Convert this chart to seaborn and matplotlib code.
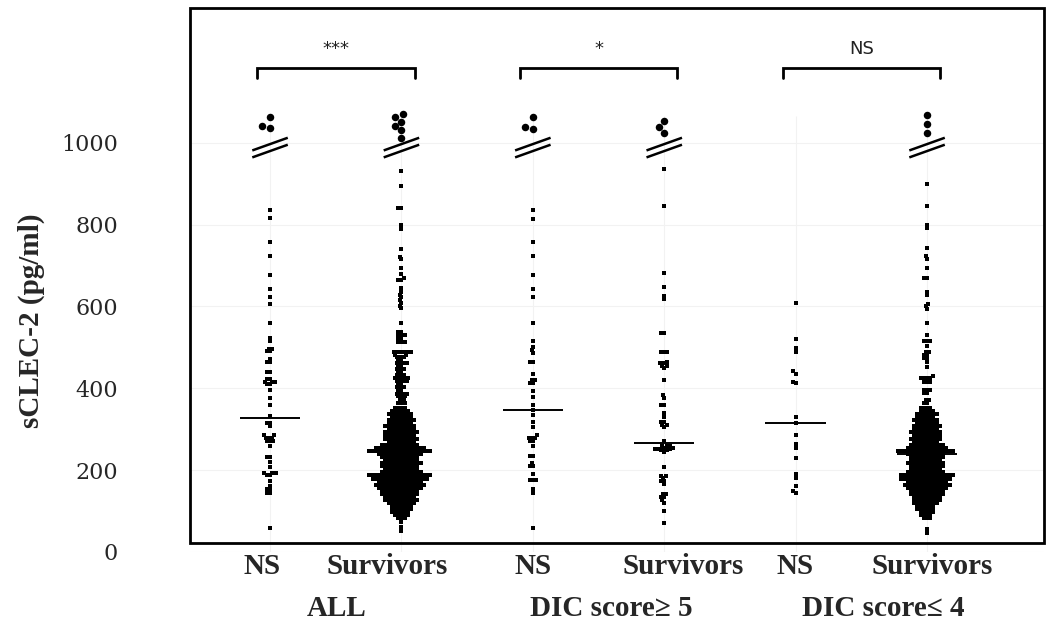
import numpy as np
import pandas as pd
import matplotlib
matplotlib.use("Agg")
import matplotlib.pyplot as plt
import seaborn as sns
from matplotlib.patches import Rectangle
from matplotlib.transforms import ScaledTranslation

# ---------------- data ----------------
categories = ["ALL NS", "ALL Survivors", "DIC5 NS", "DIC5 Survivors", "DIC4 NS", "DIC4 Survivors"]
tick_labels = ["NS", "Survivors", "NS", "Survivors", "NS", "Survivors"]
group_labels = ["ALL", "DIC score\u2265 5", "DIC score\u2264 4"]
sig_labels = ["***", "*", "NS"]
medians = [328, 244, 347, 266, 314, 239]

all_ns = [835, 816, 757, 724, 676, 642, 624, 607, 560, 524, 516, 497, 497, 490, 490,
          472, 464, 464, 439, 439, 422, 422, 416, 416, 416, 410, 410, 396, 377, 359,
          332, 315, 315, 307, 285, 285, 279, 279, 279, 272, 272, 272, 260, 233, 233,
          219, 207, 194, 194, 194, 189, 189, 174, 162, 153, 153, 145, 145, 59]

dic5_ns = [835, 814, 758, 724, 676, 642, 624, 560, 516, 500, 493, 486, 465, 465, 435,
           420, 420, 413, 413, 393, 379, 360, 346, 334, 317, 305, 285, 279, 279, 279,
           272, 272, 258, 235, 235, 218, 211, 211, 190, 176, 176, 176, 153, 145, 59]

dic5_surv = [936, 845, 681, 648, 626, 617, 535, 535, 488, 488, 488, 465, 461, 461, 455,
             455, 450, 420, 383, 376, 359, 359, 339, 329, 318, 318, 310, 310, 305, 271,
             260, 260, 260, 255, 255, 252, 252, 252, 248, 248, 245, 207, 186, 186, 181,
             174, 174, 166, 141, 141, 134, 134, 126, 120, 100, 71]

dic4_ns = [609, 521, 498, 488, 441, 436, 416, 412, 330, 316, 286, 263, 254, 229, 190,
           182, 162, 149, 144]

# sparse upper part of the survivor columns
all_surv_upper = [932, 894, 841, 841, 799, 788, 740, 721, 715, 693, 679, 669, 665, 665,
                  646, 636, 629, 622, 615, 609, 602, 595, 559,
                  538, 538, 530, 530, 530, 522, 522, 514, 514, 514,
                  489, 489, 489, 489, 489, 489, 482, 482, 477, 477, 477, 470, 470,
                  462, 462, 462, 462, 455, 455, 447, 447, 447, 440, 440, 432, 432, 432,
                  425, 425, 425, 425, 425, 417, 417, 417, 417, 410, 410, 402, 402, 402,
                  395, 395, 387, 387, 387, 387, 380, 380, 380, 372, 372, 365, 365, 365]
all_surv_lower = [74, 62, 52]

dic4_surv_upper = [898, 845, 800, 792, 743, 722, 715, 695, 669, 669, 635, 627, 607, 601,
                   594, 560, 531, 515, 515, 515, 503, 489, 489, 482, 482, 473, 473, 465,
                   453, 429, 424, 424, 424, 424, 416, 416, 416, 396, 396, 396, 388, 388,
                   371, 371, 364, 364]
dic4_surv_lower = [56, 47]

# dense body of the survivor columns: row level and number of dots in that row
row_levels = [352, 344.5, 337, 329.5, 322, 314.5, 307, 299.5, 292, 284.5, 277, 269.5,
              262, 254.5, 247, 239.5, 232, 224.5, 217, 209.5, 202, 194.5, 187, 179.5,
              172, 164.5, 157, 149.5, 142, 134.5, 127, 119.5, 112, 104.5, 97, 89.5, 82]
all_surv_counts = [4, 6, 8, 7, 9, 8, 10, 9, 11, 10, 11, 9, 12, 16, 20, 14, 12, 11, 13,
                   12, 11, 13, 20, 18, 14, 16, 14, 12, 12, 10, 11, 9, 7, 7, 6, 5, 3]
dic4_surv_counts = [4, 5, 7, 6, 8, 7, 9, 8, 10, 9, 10, 8, 11, 13, 18, 12, 11, 10, 12,
                    11, 10, 12, 17, 16, 13, 15, 13, 11, 11, 9, 9, 8, 6, 6, 5, 4, 3]

# values drawn above the axis break
out_all_ns = [1063, 1041, 1036]
out_all_surv = [1070, 1063, 1051, 1041, 1031, 1012]
out_dic5_ns = [1063, 1038, 1033]
out_dic5_surv = [1053, 1038, 1024]
out_dic4_ns = []
out_dic4_surv = [1068, 1046, 1024]

# ---------------- build long tables ----------------
all_surv = all_surv_upper + list(np.repeat(row_levels, all_surv_counts)) + all_surv_lower
dic4_surv = dic4_surv_upper + list(np.repeat(row_levels, dic4_surv_counts)) + dic4_surv_lower
series = [all_ns, all_surv, dic5_ns, dic5_surv, dic4_ns, dic4_surv]
outs = [out_all_ns, out_all_surv, out_dic5_ns, out_dic5_surv, out_dic4_ns, out_dic4_surv]

df = pd.DataFrame({
    "cat": np.concatenate([[c] * len(v) for c, v in zip(categories, series)]),
    "value": np.concatenate([np.asarray(v, float) for v in series]),
})
df_out = pd.DataFrame({
    "cat": np.concatenate([[c] * len(v) for c, v in zip(categories, outs)]),
    "value": np.concatenate([np.asarray(v, float) for v in outs if len(v)]),
})

# ---------------- figure ----------------
sns.set_style("white")
plt.rcParams["font.family"] = ["DejaVu Sans"]

W, H = 1049, 625
fig = plt.figure(figsize=(W / 100, H / 100), dpi=100)
ax = fig.add_axes([190 / W, (H - 552) / H, 854 / W, 544 / H])

sns.swarmplot(data=df, x="cat", y="value", order=categories, color="black",
              size=2.2, marker="s", linewidth=0, ax=ax, warn_thresh=1.0, zorder=3)
sns.swarmplot(data=df_out, x="cat", y="value", order=categories, color="black",
              size=5.4, linewidth=0, ax=ax, warn_thresh=1.0, zorder=3)

ax.set_xlim(-0.609, 5.89)
ax.set_ylim(0, 1329)

# faint grid
for s in ax.spines.values():
    s.set_visible(False)
ax.set_yticks([0, 200, 400, 600, 800, 1000])
ax.yaxis.grid(True, color="#f2f2f2", linewidth=0.8, zorder=0)
ax.vlines(np.arange(len(categories)), 0, 1066, color="#f2f2f2", linewidth=0.8, zorder=0)

# frame
ax.add_patch(Rectangle((0, 9 / 544), 1, 1 - 9 / 544, transform=ax.transAxes,
                       fill=False, edgecolor="black", linewidth=2.0, clip_on=False, zorder=5))

# medians
for i, m in enumerate(medians):
    ax.hlines(m, i - 0.23, i + 0.23, color="black", linewidth=1.4, zorder=4)

# axis-break marks and outliers
for i, o in enumerate(outs):
    if len(o):
        for y0 in (964, 981):
            ax.plot([i - 0.135, i + 0.135], [y0, y0 + 31], color="black",
                    linewidth=1.8, solid_capstyle="butt", zorder=4)

# significance brackets
for g, lab in enumerate(sig_labels):
    x0, x1 = 2 * g - 0.1, 2 * g + 1.1
    ax.plot([x0, x0, x1, x1], [1158, 1182, 1182, 1158], color="black",
            linewidth=2.0, solid_joinstyle="miter", zorder=4)
    ax.text((x0 + x1) / 2, 1228, lab, ha="center", va="center", fontsize=13,
            family="DejaVu Sans", color="#222222")

# ticks
ax.tick_params(axis="both", length=0)
ax.set_yticklabels([str(t) for t in [0, 200, 400, 600, 800, 1000]],
                   family="DejaVu Serif", fontsize=16)
ax.tick_params(axis="y", pad=52)
ax.set_xticks(range(len(categories)))
ax.set_xticklabels(tick_labels, family="Liberation Serif", fontweight="bold", fontsize=21)
ax.tick_params(axis="x", pad=1)
label_shift_px = [-8, -14, 0, 19, -1, 5]
for lab, dx in zip(ax.get_xticklabels(), label_shift_px):
    lab.set_transform(lab.get_transform() + ScaledTranslation(dx / 100, 0, fig.dpi_scale_trans))

ax.set_xlabel("")
ax.set_ylabel("sCLEC-2 (pg/ml)", family="Liberation Serif", fontweight="bold", fontsize=21)
ax.yaxis.set_label_coords(-0.170, 0.426)

# group labels
group_x = [0.51, 2.60, 4.67]
for gx, gl in zip(group_x, group_labels):
    ax.text(gx, -56 / 544, gl, transform=ax.get_xaxis_transform(), ha="center",
            va="center", family="Liberation Serif", fontweight="bold", fontsize=21)

fig.savefig("out.png", dpi=100)
